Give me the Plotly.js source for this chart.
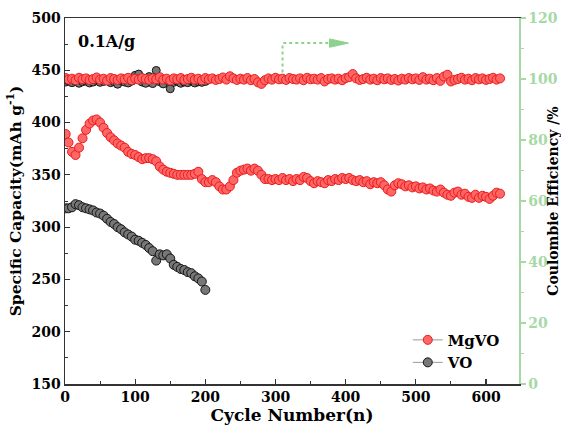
<!DOCTYPE html>
<html>
<head>
<meta charset="utf-8">
<script src="https://cdn.plot.ly/plotly-3.0.1.min.js"></script>
<style>html,body{margin:0;padding:0;background:#fff;}#chart{width:561px;height:425px;}</style>
</head>
<body>
<div id="chart"></div>
<script>
const cyclesMgVO = [1,5,10,15,20,25,30,35,40,45,50,55,60,65,70,75,80,85,90,95,100,105,110,115,120,125,130,135,140,145,150,155,160,165,170,175,180,185,190,195,200,205,210,215,220,225,230,235,240,245,250,255,260,265,270,275,280,285,290,295,300,305,310,315,320,325,330,335,340,345,350,355,360,365,370,375,380,385,390,395,400,405,410,415,420,425,430,435,440,445,450,455,460,465,470,475,480,485,490,495,500,505,510,515,520,525,530,535,540,545,550,555,560,565,570,575,580,585,590,595,600,605,610,615,620];
const capMgVO = [
 389,381,372,369,376,385,393,399,402,403,
 400,395,390,386,383,380,378,376,372,370,
 369,367,365,366,366,365,363,358,355,353,
 352,351,350,350,350,350,350,351,353,346,
 343,343,345,343,339,336,336,339,345,352,
 354,355,356,354,356,354,350,346,346,345,
 346,345,347,345,346,344,346,345,348,347,
 344,342,344,343,342,345,344,346,345,347,
 346,347,345,344,345,343,344,341,343,342,
 343,340,336,334,340,342,341,339,340,338,
 339,337,338,336,337,335,334,336,333,331,
 330,333,334,331,332,329,328,331,328,330,
 329,327,330,333,332];
const ceMgVO = [
 100.3,99.8,100.1,99.6,100.4,99.9,100.2,99.7,100.0,100.5,
 99.8,100.1,99.5,100.3,100.0,99.7,100.2,99.9,100.4,99.6,
 100.1,99.8,100.3,100.0,99.7,100.2,99.9,100.6,99.8,100.1,
 99.5,100.2,99.9,100.3,99.7,100.0,100.4,99.8,100.1,99.6,
 100.3,99.9,100.2,99.7,100.0,100.5,99.8,100.9,100.2,99.7,
 100.1,99.8,100.3,99.6,100.0,98.9,98.4,99.6,100.2,99.8,
 100.4,99.9,100.1,99.7,100.3,100.0,99.8,100.2,99.6,100.4,
 99.9,100.1,99.8,100.3,99.2,100.0,100.2,99.8,100.1,99.6,
 100.3,100.6,101.6,100.2,99.7,100.0,100.4,99.8,100.1,99.6,
 100.3,99.9,100.2,99.7,100.0,99.5,100.1,99.8,100.3,99.9,
 100.2,99.7,100.6,99.8,100.1,99.6,100.3,99.4,100.8,101.4,
 99.2,99.7,100.0,100.4,99.8,100.1,99.6,100.3,99.9,100.2,
 99.7,100.0,100.4,99.8,100.2];

const cyclesVO = [1,5,10,15,20,25,30,35,40,45,50,55,60,65,70,75,80,85,90,95,100,105,110,115,120,125,130,135,140,145,150,155,160,165,170,175,180,185,190,195,200];
const capVO = [318,318,319,322,321,319,318,317,316,314,313,311,308,305,303,300,298,295,293,291,288,287,285,283,280,277,268,274,273,274,270,264,262,260,259,257,256,253,251,248,240];
const ceVO = [99.0,99.4,98.8,99.2,98.6,99.1,99.3,98.7,99.0,99.5,98.9,99.2,99.6,98.8,99.1,98.3,99.4,99.0,98.7,99.3,101.2,101.6,99.0,98.6,100.8,98.5,102.8,99.1,98.4,99.6,96.8,98.9,99.3,98.6,99.0,98.8,99.4,98.7,99.1,98.9,99.2];

const seriesNames = ['MgVO','VO'];
const xTitle = 'Cycle Number(n)';
const yTitle = 'Specific Capacity(mAh g<sup>-1</sup>)';
const y2Title = 'Coulombie Efficiency /%';
const rateLabel = '0.1A/g';

const FONT = 'DejaVu Serif';
const green = '#a6d9a6';
const redFill = '#ff6666', redEdge = '#ec1a1a';
const blackFill = '#777777', blackEdge = '#151515';

const mk = (fill, edge, s) => ({symbol: 'circle', size: s, color: fill, line: {color: edge, width: 1}});

const traces = [
 {x: cyclesVO, y: ceVO, yaxis: 'y2', type: 'scatter', mode: 'markers', showlegend: false,
  marker: mk(blackFill, blackEdge, 8)},
 {x: cyclesVO, y: capVO, type: 'scatter', mode: 'lines+markers', name: seriesNames[1],
  line: {color: '#999', width: 1}, marker: mk(blackFill, blackEdge, 9)},
 {x: cyclesMgVO, y: ceMgVO, yaxis: 'y2', type: 'scatter', mode: 'markers', showlegend: false,
  marker: mk(redFill, redEdge, 9)},
 {x: cyclesMgVO, y: capMgVO, type: 'scatter', mode: 'lines+markers', name: seriesNames[0],
  line: {color: '#999', width: 1}, marker: mk(redFill, redEdge, 9)}
];

const layout = {
 width: 561, height: 425,
 margin: {l: 65, r: 42, t: 18, b: 41},
 paper_bgcolor: '#fff', plot_bgcolor: '#fff',
 font: {family: FONT, color: '#000', weight: 'bold'},
 showlegend: true,
 legend: {x: 0.755, y: 0.165, xanchor: 'left', yanchor: 'top', traceorder: 'reversed',
  bgcolor: 'rgba(0,0,0,0)', font: {family: FONT, size: 15, weight: 'bold', color: '#000'},
  itemwidth: 30, tracegroupgap: 0},
 xaxis: {range: [0, 647], dtick: 100, tick0: 0, showgrid: false, zeroline: false,
  showline: true, linecolor: '#333', linewidth: 1.5, mirror: true,
  ticks: 'inside', ticklen: 5, tickcolor: '#333', tickwidth: 1.2,
  minor: {dtick: 50, ticks: 'inside', ticklen: 3, tickcolor: '#333', tickwidth: 1},
  tickfont: {family: FONT, size: 14, weight: 'bold', color: '#000'},
  title: {text: xTitle, font: {family: FONT, size: 17, weight: 'bold', color: '#000'}, standoff: 1}},
 yaxis: {range: [150, 500], dtick: 50, tick0: 0, showgrid: false, zeroline: false,
  showline: true, linecolor: '#333', linewidth: 1.5, mirror: false,
  ticks: 'inside', ticklen: 5, tickcolor: '#333', tickwidth: 1.2,
  minor: {dtick: 25, ticks: 'inside', ticklen: 3, tickcolor: '#333', tickwidth: 1},
  tickfont: {family: FONT, size: 14, weight: 'bold', color: '#000'},
  title: {text: yTitle, font: {family: FONT, size: 15.5, weight: 'bold', color: '#000'}, standoff: 6}},
 yaxis2: {overlaying: 'y', side: 'right', range: [0, 120], dtick: 20, tick0: 0,
  showgrid: false, zeroline: false, showline: true, linecolor: green, linewidth: 1.5,
  ticks: 'outside', ticklen: 5, tickcolor: green, tickwidth: 1.2,
  minor: {dtick: 10, ticks: 'outside', ticklen: 3, tickcolor: green, tickwidth: 1},
  tickfont: {family: FONT, size: 14, weight: 'bold', color: green},
  title: {text: y2Title, font: {family: FONT, size: 14, weight: 'bold', color: '#000'}, standoff: 4}},
 annotations: [
  {xref: 'paper', yref: 'paper', x: 0.025, y: 0.935, xanchor: 'left', yanchor: 'middle',
   text: rateLabel, showarrow: false, font: {family: FONT, size: 16, weight: 'bold', color: '#000'}}
 ],
 shapes: [
  {type: 'path', xref: 'x', yref: 'y', path: 'M 310 448 L 310 476 L 378 476',
   line: {color: '#8fd18f', width: 2, dash: 'dot'}},
  {type: 'path', xref: 'x', yref: 'y', path: 'M 377 480 L 404 476 L 377 472 Z',
   fillcolor: '#8fd18f', line: {color: '#8fd18f', width: 1}}
 ]
};

Plotly.newPlot('chart', traces, layout, {displayModeBar: false, staticPlot: true});
</script>
</body>
</html>
